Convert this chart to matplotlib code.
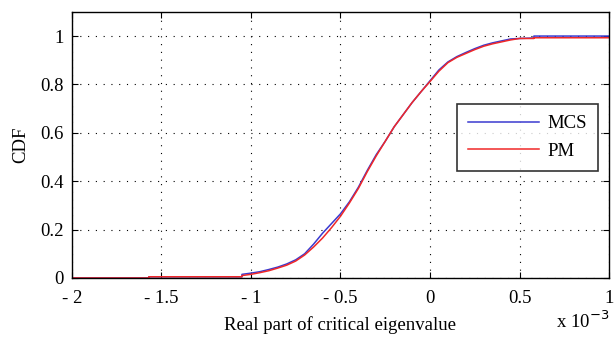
import matplotlib
matplotlib.use("Agg")
import matplotlib.pyplot as plt
import numpy as np

plt.rcParams['font.family'] = ['Liberation Serif', 'DejaVu Serif']

# x values in units of 1e-3
mcs_x = [-2.0, -1.57, -1.57, -1.05, -1.05, -1.0, -0.95, -0.9, -0.85, -0.8, -0.75, -0.7, -0.65,
         -0.6, -0.55, -0.5, -0.45, -0.4, -0.35, -0.3, -0.25, -0.2, -0.15, -0.1, -0.05, 0.0,
         0.05, 0.1, 0.15, 0.2, 0.25, 0.3, 0.35, 0.4, 0.45, 0.5, 0.58, 0.58, 1.0]
mcs_y = [0.0, 0.0, 0.005, 0.005, 0.015, 0.02, 0.026, 0.035, 0.045, 0.058, 0.075, 0.1, 0.14,
         0.185, 0.225, 0.265, 0.315, 0.375, 0.445, 0.51, 0.565, 0.625, 0.675, 0.725, 0.77,
         0.815, 0.86, 0.893, 0.915, 0.932, 0.948, 0.962, 0.972, 0.98, 0.988, 0.99, 0.992, 1.0, 1.0]

pm_x = [-2.0, -1.57, -1.57, -1.05, -1.05, -1.0, -0.95, -0.9, -0.85, -0.8, -0.75, -0.7, -0.65,
        -0.6, -0.55, -0.5, -0.45, -0.4, -0.35, -0.3, -0.25, -0.2, -0.15, -0.1, -0.05, 0.0,
        0.05, 0.1, 0.15, 0.2, 0.25, 0.3, 0.35, 0.4, 0.45, 0.5, 0.58, 0.58, 1.0]
pm_y = [0.0, 0.0, 0.005, 0.005, 0.01, 0.015, 0.022, 0.03, 0.041, 0.053, 0.07, 0.095, 0.128,
        0.165, 0.208, 0.255, 0.31, 0.37, 0.44, 0.505, 0.565, 0.625, 0.675, 0.725, 0.77,
        0.812, 0.855, 0.89, 0.912, 0.928, 0.944, 0.958, 0.968, 0.976, 0.984, 0.99, 0.99, 0.993, 0.993]

xticks = [-2, -1.5, -1, -0.5, 0, 0.5, 1]
xticklabels = ['- 2', '- 1.5', '- 1', '- 0.5', '0', '0.5', '1']
yticks = [0, 0.2, 0.4, 0.6, 0.8, 1]
yticklabels = ['0', '0.2', '0.4', '0.6', '0.8', '1']

fs = 13.5

fig = plt.figure(figsize=(6.14, 3.39), dpi=100)
ax = fig.add_axes([0.117, 0.18, 0.875, 0.785])

ax.plot(mcs_x, mcs_y, color='#3a3ad0', lw=1.1, label='MCS')
ax.plot(pm_x, pm_y, color='#f02828', lw=1.1, label='PM')

ax.set_xlim(-2, 1)
ax.set_ylim(0, 1.1)
ax.set_xticks(xticks)
ax.set_xticklabels(xticklabels)
ax.set_yticks(yticks)
ax.set_yticklabels(yticklabels)
ax.tick_params(direction='in', length=4, labelsize=fs, top=True, right=True, pad=6)
ax.tick_params(axis='x', pad=9)
ax.grid(True, linestyle=(0, (1, 6)), color='black', lw=0.8)
for s in ax.spines.values():
    s.set_linewidth(1.0)

ax.set_xlabel('Real part of critical eigenvalue', fontsize=fs, labelpad=6)
ax.set_ylabel('CDF', fontsize=fs, labelpad=8)
fig.text(0.905, 0.02, r'x 10$^{-3}$', fontsize=fs, ha='left', va='bottom')

leg = ax.legend(loc='upper right', bbox_to_anchor=(0.98, 0.654),
                fontsize=fs, frameon=True, fancybox=False, edgecolor='black',
                handlelength=3.8, handletextpad=0.45, borderpad=0.6, labelspacing=0.55,
                borderaxespad=0.0)
leg.get_frame().set_linewidth(1.2)

fig.savefig('out.png', dpi=100)
